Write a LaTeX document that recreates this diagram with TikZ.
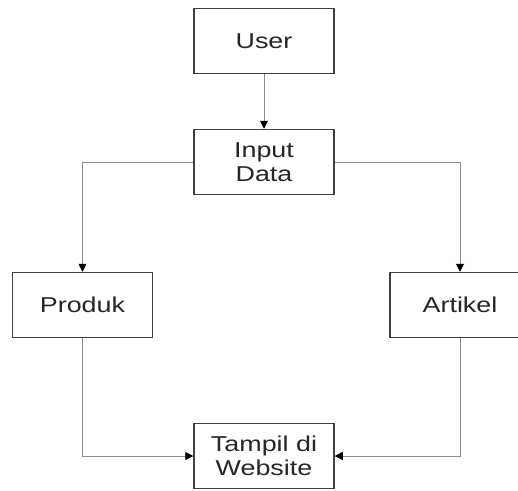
\documentclass[tikz,border=0pt]{standalone}
\usepackage{fontspec}
\setmainfont{Liberation Sans}[FakeStretch=1.25]
\usetikzlibrary{arrows.meta}
\tikzset{
  box/.style={draw=black!75, line width=1.5pt, fill=white, minimum width=140pt, minimum height=65pt,
    inner sep=0pt, align=center, text=black!85, font=\fontsize{21.5}{23.5}\selectfont},
  conn/.style={draw=black!45, line width=0.9pt, -{Triangle[length=8pt,width=8pt,color=black]}}
}
\begin{document}
\begin{tikzpicture}[x=1pt,y=-1pt]
\useasboundingbox (0,0) rectangle (518,490);
\clip (0,0) rectangle (518,490);
\node[box] (user) at (264,41) {User};
\node[box] (input) at (264,162) {Input\\Data};
\node[box] (produk) at (82.5,305) {Produk};
\node[box] (artikel) at (460,305) {Artikel};
\node[box] (tampil) at (264,456) {Tampil di\\Website};
\draw[conn] (user) -- (input);
\draw[conn] (input.west) -| (produk.north);
\draw[conn] (input.east) -| (artikel.north);
\draw[conn] (produk.south) |- (tampil.west);
\draw[conn] (artikel.south) |- (tampil.east);
\end{tikzpicture}
\end{document}
